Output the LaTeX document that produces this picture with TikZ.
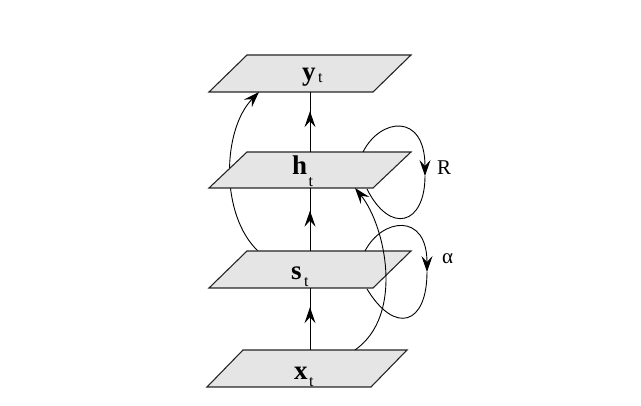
\documentclass[tikz,border=0pt]{standalone}
\usepackage{fontspec}
\setmainfont{Liberation Serif}
\usetikzlibrary{arrows.meta,decorations.markings,calc}
\begin{document}
\begin{tikzpicture}[x=1pt,y=-1pt,
  plane/.style={fill=black!10,draw=black!85,line width=1.1pt,line join=miter},
  conn/.style={line width=0.9pt},
  tipend/.style={-{Stealth[length=16pt,width=11pt,inset=6pt]}},
  midarrow/.style={postaction={decorate},decoration={markings,
     mark=at position #1 with {\arrow{Stealth[length=16pt,width=11pt,inset=6pt]}}}},
  lbl/.style={inner sep=0pt,anchor=base west,font=\fontsize{27}{27}\selectfont\bfseries},
  subl/.style={inner sep=0pt,anchor=base west,font=\fontsize{16}{16}\selectfont},
  side/.style={inner sep=0pt,anchor=base west,font=\fontsize{21}{21}\selectfont},
]
\useasboundingbox (0,0) rectangle (641,406);
% named points
\coordinate (ybot) at (310,92);
\coordinate (htop) at (310,152);
\coordinate (hbot) at (310,188);
\coordinate (stop) at (310,251);
\coordinate (sbot) at (310,288);
\coordinate (xtop) at (310,350);
\coordinate (sl) at (258,251);
\coordinate (yl) at (259,92);
\coordinate (xr) at (355,350);
\coordinate (hr) at (355,188);
\coordinate (rA) at (363,152);
\coordinate (rM) at (425,176);
\coordinate (rB) at (367,189);
\coordinate (aA) at (365,251);
\coordinate (aM) at (427,272);
\coordinate (aB) at (367,289);
% y plane
\draw[plane] (247,55) -- (411,55) -- (373,92) -- (209,92) -- cycle;
% left curve s -> y (behind h plane)
\draw[conn,tipend] (sl) .. controls (220,215) and (222,130) .. (yl);
% h, s, x planes
\draw[plane] (247,152) -- (411,152) -- (373,188) -- (209,188) -- cycle;
\draw[plane] (247,251) -- (411,251) -- (373,288) -- (209,288) -- cycle;
\draw[plane] (243,350) -- (407,350) -- (371,387) -- (207,387) -- cycle;
% right curve x -> h
\draw[conn,tipend] (xr) .. controls (405,315) and (385,225) .. (hr);
% loop R
\draw[conn,tipend] (rA) .. controls (380,118) and (425,112) .. (rM);
\draw[conn] (rM) .. controls (425,225) and (390,235) .. (rB);
% loop alpha
\draw[conn,tipend] (aA) .. controls (382,218) and (427,212) .. (aM);
\draw[conn] (aM) .. controls (427,325) and (395,335) .. (aB);
% vertical arrows
\draw[conn,midarrow=0.68] (htop) -- (ybot);
\draw[conn,midarrow=0.64] (stop) -- (hbot);
\draw[conn,midarrow=0.69] (xtop) -- (sbot);
% labels
\node[lbl] (ly) at (302,81) {y};
\node[subl] (lyt) at ($(ly.base east)+(2,2)$) {t};
\node[lbl] (lh) at (292,175) {h};
\node[subl] (lht) at ($(lh.base east)+(1,12)$) {t};
\node[lbl] (ls) at (291,280) {s};
\node[subl] (lst) at ($(ls.base east)+(2,7)$) {t};
\node[lbl] (lx) at (294,380) {x};
\node[subl] (lxt) at ($(lx.base east)+(1,7)$) {t};
\node[side] (lR) at (437,175) {R};
\node[side] (la) at (442,264) {α};
\end{tikzpicture}
\end{document}
